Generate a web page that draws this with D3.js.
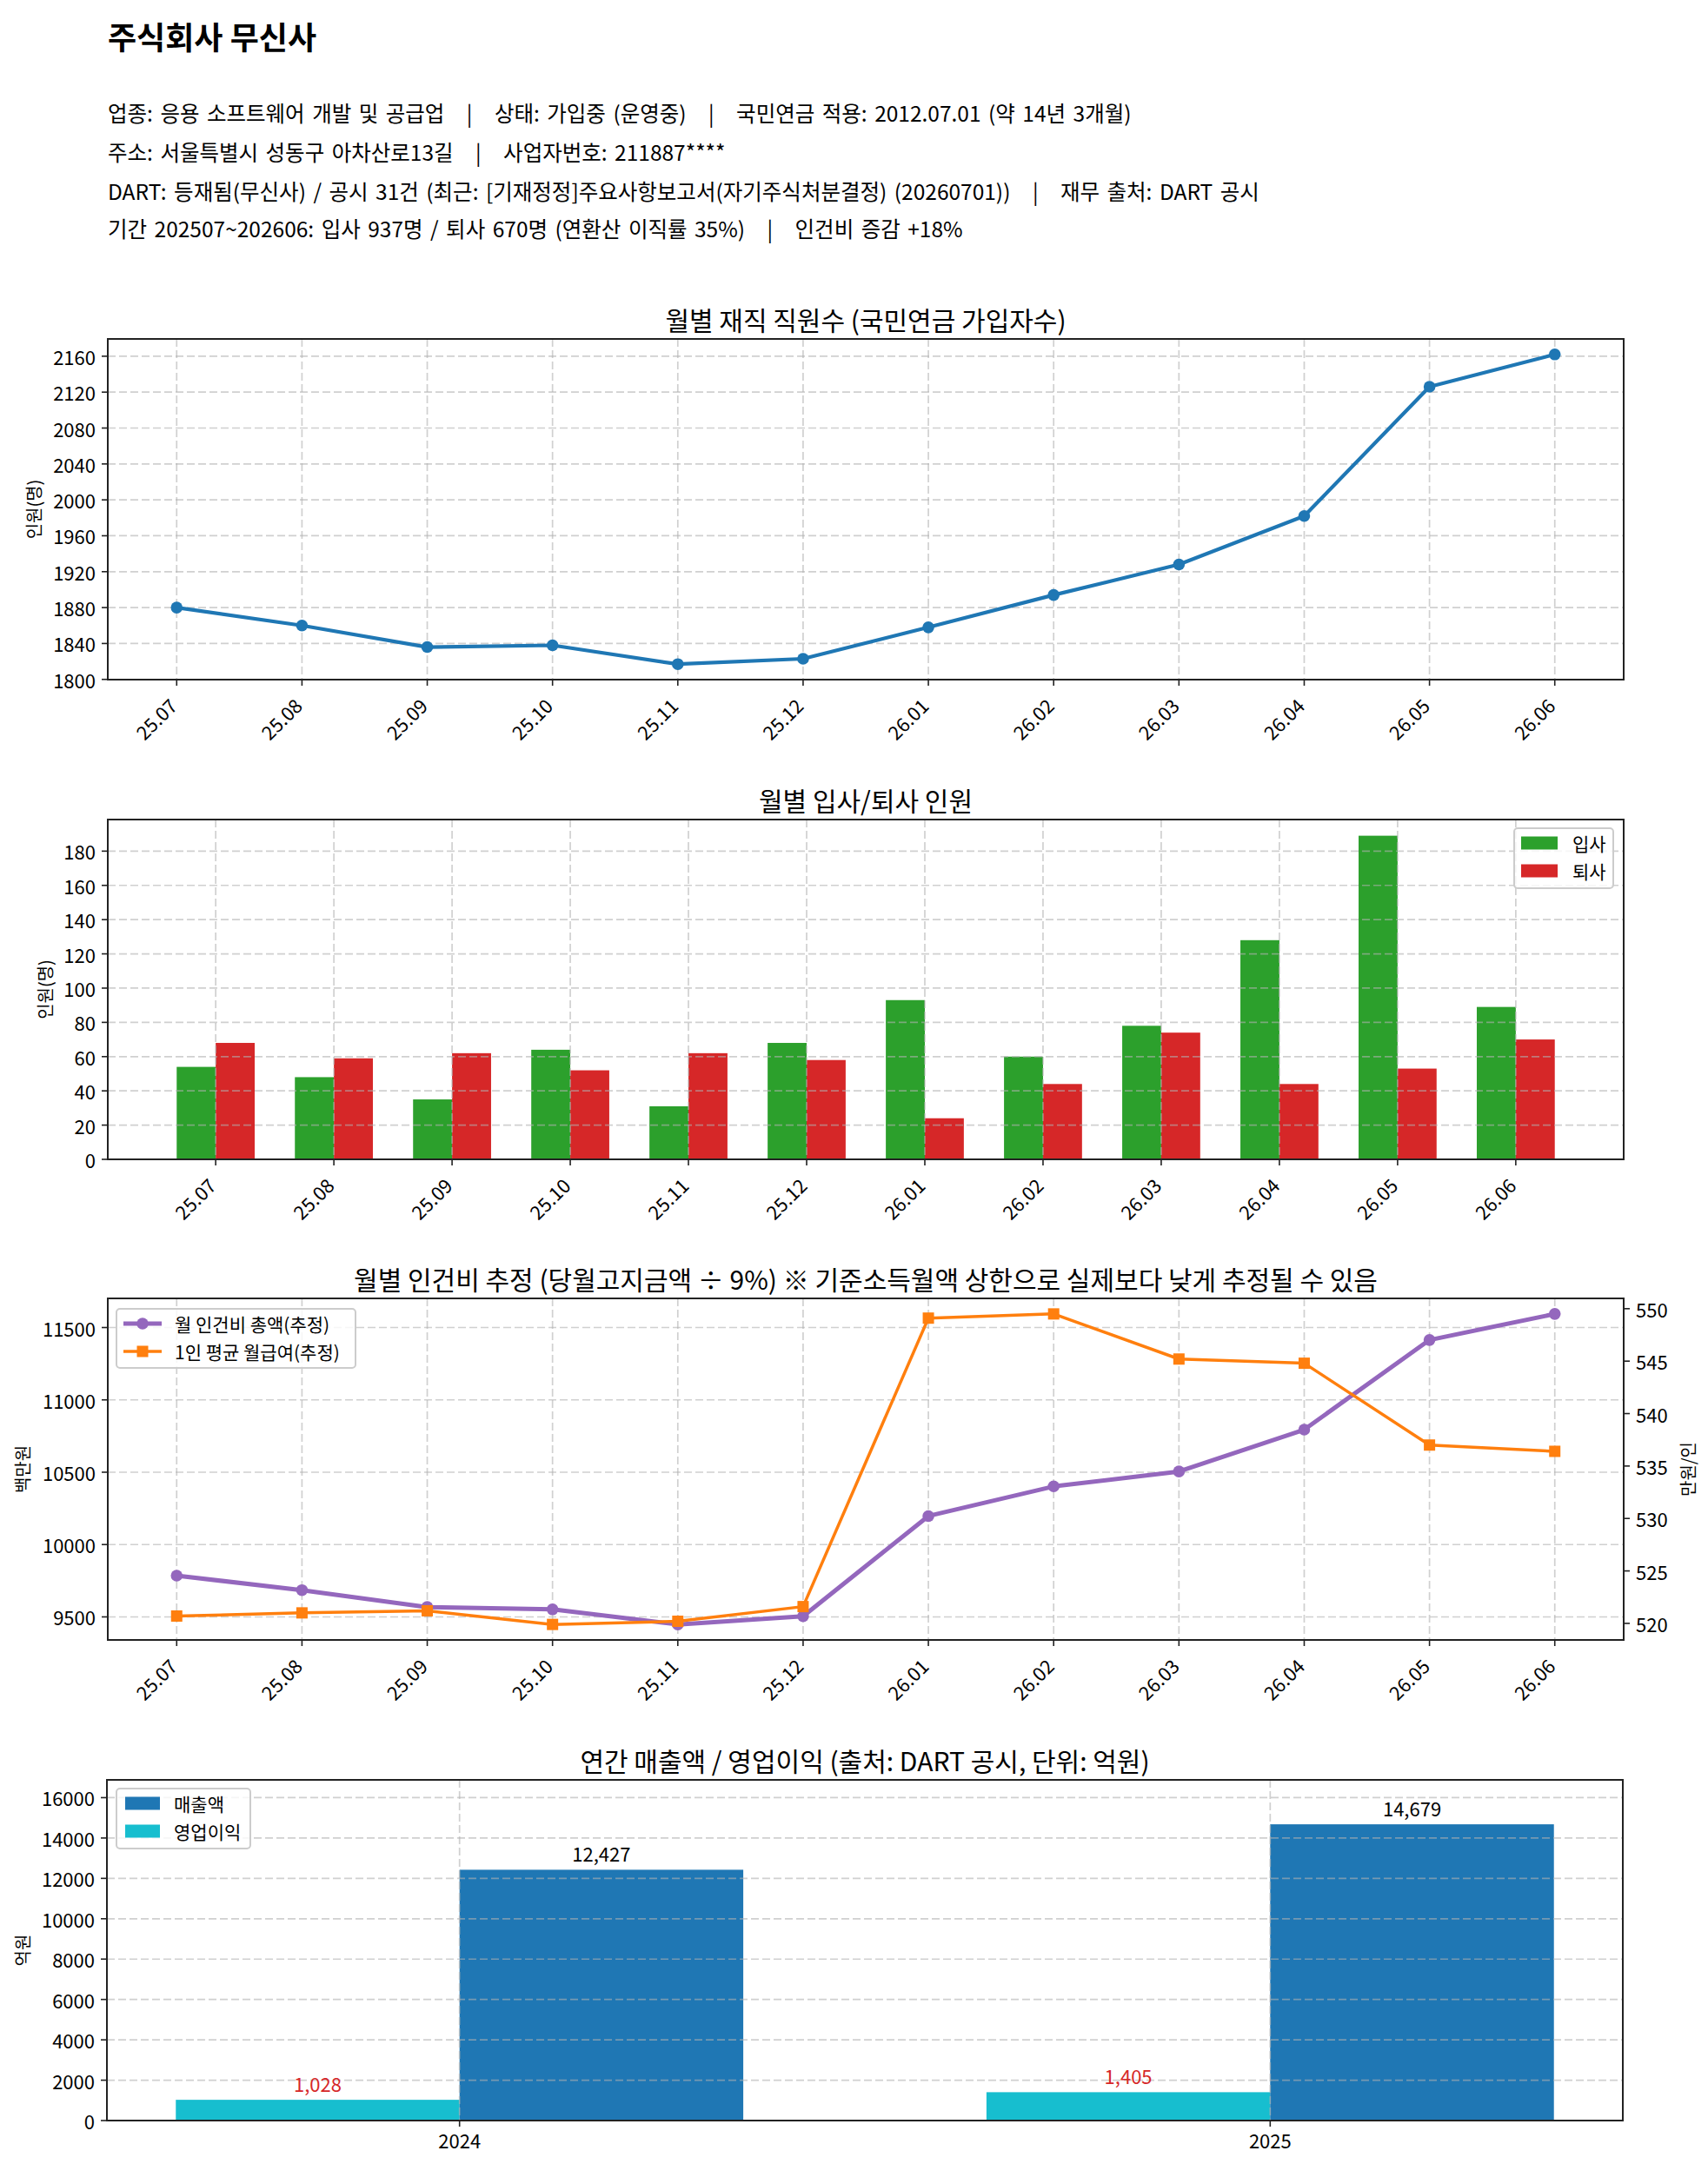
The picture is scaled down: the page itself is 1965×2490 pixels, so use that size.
<!DOCTYPE html>
<html><head><meta charset="utf-8">
<script src="https://cdn.jsdelivr.net/npm/d3@7/dist/d3.min.js"></script>
<style>
body{margin:0;background:#fff}
svg{display:block}
text{font-family:"Noto Sans CJK KR","Noto Sans",sans-serif;fill:#000}
</style>
</head><body>
<svg id="chart" width="1965" height="2490"></svg>
<script>
// ---------- DATA ----------
const months = ["25.07","25.08","25.09","25.10","25.11","25.12","26.01","26.02","26.03","26.04","26.05","26.06"];
const headcount = [1880,1860,1836,1838,1817,1823,1858,1894,1928,1982,2126,2162];
const hires  = [54,48,35,64,31,68,93,60,78,128,189,89];
const leaves = [68,59,62,52,62,58,24,44,74,44,53,70];
const laborCost = [9785,9685,9568,9552,9448,9504,10197,10402,10505,10794,11414,11594]; // 백만원
const avgSalary = [520.7,521.0,521.2,519.9,520.2,521.6,549.1,549.5,545.2,544.8,537.0,536.4]; // 만원/인
const years = ["2024","2025"];
const revenue = [12427,14679];
const opProfit = [1028,1405];

const headcountTicks = [1800,1840,1880,1920,1960,2000,2040,2080,2120,2160];
const flowTicks = [0,20,40,60,80,100,120,140,160,180];
const costTicks = [9500,10000,10500,11000,11500];
const salaryTicks = [520,525,530,535,540,545,550];
const finTicks = [0,2000,4000,6000,8000,10000,12000,14000,16000];

const headerTitle = "주식회사 무신사";
const headerLines = [
  "업종: 응용 소프트웨어 개발 및 공급업   |   상태: 가입중 (운영중)   |   국민연금 적용: 2012.07.01 (약 14년 3개월)",
  "주소: 서울특별시 성동구 아차산로13길   |   사업자번호: 211887****",
  "DART: 등재됨(무신사) / 공시 31건 (최근: [기재정정]주요사항보고서(자기주식처분결정) (20260701))   |   재무 출처: DART 공시",
  "기간 202507~202606: 입사 937명 / 퇴사 670명 (연환산 이직률 35%)   |   인건비 증감 +18%"
];

// ---------- STYLE ----------
const C = {blue:"#1f77b4", green:"#2ca02c", red:"#d62728", purple:"#9467bd", orange:"#ff7f0e", cyan:"#17becf",
           spine:"#222222", grid:"#b0b0b0"};
const L = 124, R = 1868;
const TICK_FS = 22, TITLE_FS = 30, LABEL_FS = 20, LEG_FS = 21;

const svg = d3.select("#chart");
svg.append("rect").attr("width",1965).attr("height",2490).attr("fill","#fff");

// header
svg.append("text").attr("x",124).attr("y",57).attr("font-size",36).attr("font-weight","bold").text(headerTitle);
const headerY = [140,185,230,273];
headerLines.forEach((t,i)=>{
  svg.append("text").attr("x",124).attr("y",headerY[i]).attr("font-size",24.5).attr("word-spacing",3)
     .attr("xml:space","preserve").style("white-space","pre").text(t);
});

// ---------- helpers ----------
function padExtent(arr, p){ const [a,b]=d3.extent(arr); const r=b-a; return [a-p*r, b+p*r]; }

function gridH(g, y, ticks, x0, x1){
  g.selectAll(null).data(ticks).enter().append("line")
   .attr("x1",x0).attr("x2",x1).attr("y1",d=>y(d)).attr("y2",d=>y(d))
   .attr("stroke",C.grid).attr("stroke-opacity",0.6).attr("stroke-width",1.7).attr("stroke-dasharray","9,4");
}
function gridV(g, xs, y0, y1){
  g.selectAll(null).data(xs).enter().append("line")
   .attr("x1",d=>d).attr("x2",d=>d).attr("y1",y0).attr("y2",y1)
   .attr("stroke",C.grid).attr("stroke-opacity",0.6).attr("stroke-width",1.7).attr("stroke-dasharray","9,4");
}
function frame(g, x0,x1,y0,y1){
  g.append("rect").attr("x",x0).attr("y",y0).attr("width",x1-x0).attr("height",y1-y0)
   .attr("fill","none").attr("stroke",C.spine).attr("stroke-width",2);
}
function yAxisLeft(g, y, ticks, x0, fmt){
  g.selectAll(null).data(ticks).enter().append("line")
   .attr("x1",x0-7).attr("x2",x0).attr("y1",d=>y(d)).attr("y2",d=>y(d)).attr("stroke",C.spine).attr("stroke-width",1.6);
  g.selectAll(null).data(ticks).enter().append("text")
   .attr("x",x0-14).attr("y",d=>y(d)).attr("text-anchor","end").attr("dominant-baseline","central")
   .attr("font-size",TICK_FS).text(d=>fmt?fmt(d):d);
}
function yAxisRight(g, y, ticks, x1){
  g.selectAll(null).data(ticks).enter().append("line")
   .attr("x1",x1).attr("x2",x1+7).attr("y1",d=>y(d)).attr("y2",d=>y(d)).attr("stroke",C.spine).attr("stroke-width",1.6);
  g.selectAll(null).data(ticks).enter().append("text")
   .attr("x",x1+14).attr("y",d=>y(d)).attr("text-anchor","start").attr("dominant-baseline","central")
   .attr("font-size",TICK_FS).text(d=>d);
}
function xAxisRotated(g, xs, labels, y1){
  g.selectAll(null).data(xs).enter().append("line")
   .attr("x1",d=>d).attr("x2",d=>d).attr("y1",y1).attr("y2",y1+7).attr("stroke",C.spine).attr("stroke-width",1.6);
  g.selectAll(null).data(xs).enter().append("text")
   .attr("transform",(d)=>`translate(${d-5},${y1+25}) rotate(-45)`)
   .attr("text-anchor","end").attr("dominant-baseline","central").attr("font-size",TICK_FS)
   .text((d,i)=>labels[i]);
}
function title(g, text, top){
  g.append("text").attr("x",(L+R)/2).attr("y",top-10).attr("text-anchor","middle").attr("font-size",TITLE_FS).text(text);
}
function yLabel(g, text, x, top, bottom){
  g.append("text").attr("transform",`translate(${x},${(top+bottom)/2}) rotate(-90)`)
   .attr("text-anchor","middle").attr("dominant-baseline","central").attr("font-size",LABEL_FS).text(text);
}
function legendBox(g,x0,y0,x1,y1){
  g.append("rect").attr("x",x0).attr("y",y0).attr("width",x1-x0).attr("height",y1-y0).attr("rx",4)
   .attr("fill","#fff").attr("fill-opacity",0.8).attr("stroke","#cccccc").attr("stroke-width",2);
}

// ---------- Chart 1: headcount ----------
{
  const top=390,bottom=782;
  const g = svg.append("g");
  const x = d3.scaleLinear().domain([-0.55, months.length-1+0.55]).range([L,R]);
  const y = d3.scaleLinear().domain(padExtent(headcount,0.05)).range([bottom,top]);
  const xs = months.map((m,i)=>x(i));
  gridV(g, xs, top, bottom);
  gridH(g, y, headcountTicks, L, R);
  const line = d3.line().x((d,i)=>x(i)).y(d=>y(d));
  g.append("path").datum(headcount).attr("d",line).attr("fill","none").attr("stroke",C.blue).attr("stroke-width",4.2).attr("stroke-linejoin","round");
  g.selectAll(null).data(headcount).enter().append("circle").attr("cx",(d,i)=>x(i)).attr("cy",d=>y(d)).attr("r",6.8).attr("fill",C.blue);
  frame(g,L,R,top,bottom);
  yAxisLeft(g,y,headcountTicks,L);
  xAxisRotated(g,xs,months,bottom);
  title(g,"월별 재직 직원수 (국민연금 가입자수)",top);
  yLabel(g,"인원(명)",38,top,bottom);
}

// ---------- Chart 2: hires / leaves ----------
{
  const top=943,bottom=1334, w=0.33;
  const g = svg.append("g");
  const span = months.length-1+2*w;
  const x = d3.scaleLinear().domain([-w-0.05*span, months.length-1+w+0.05*span]).range([L,R]);
  const y = d3.scaleLinear().domain([0, d3.max(hires.concat(leaves))*1.05]).range([bottom,top]);
  const xs = months.map((m,i)=>x(i));
  const bw = x(w)-x(0);
  g.selectAll(null).data(hires).enter().append("rect")
   .attr("x",(d,i)=>x(i-w)).attr("y",d=>y(d)).attr("width",bw).attr("height",d=>bottom-y(d)).attr("fill",C.green);
  g.selectAll(null).data(leaves).enter().append("rect")
   .attr("x",(d,i)=>x(i)).attr("y",d=>y(d)).attr("width",bw).attr("height",d=>bottom-y(d)).attr("fill",C.red);
  gridV(g, xs, top, bottom);
  gridH(g, y, flowTicks, L, R);
  frame(g,L,R,top,bottom);
  yAxisLeft(g,y,flowTicks,L);
  xAxisRotated(g,xs,months,bottom);
  title(g,"월별 입사/퇴사 인원",top);
  yLabel(g,"인원(명)",51,top,bottom);
  legendBox(g,1742,953,1856,1022);
  [["입사",C.green,970],["퇴사",C.red,1002]].forEach(([t,c,cy])=>{
    g.append("rect").attr("x",1750).attr("y",cy-7.5).attr("width",42).attr("height",15).attr("fill",c);
    g.append("text").attr("x",1809).attr("y",cy).attr("dominant-baseline","central").attr("font-size",LEG_FS).text(t);
  });
}

// ---------- Chart 3: labor cost ----------
{
  const top=1494,bottom=1887;
  const g = svg.append("g");
  const x = d3.scaleLinear().domain([-0.55, months.length-1+0.55]).range([L,R]);
  const yL = d3.scaleLinear().domain(padExtent(laborCost,0.05)).range([bottom,top]);
  const yR = d3.scaleLinear().domain(padExtent(avgSalary,0.05)).range([bottom,top]);
  const xs = months.map((m,i)=>x(i));
  gridV(g, xs, top, bottom);
  gridH(g, yL, costTicks, L, R);
  g.append("path").datum(laborCost).attr("d",d3.line().x((d,i)=>x(i)).y(d=>yL(d)))
   .attr("fill","none").attr("stroke",C.purple).attr("stroke-width",5).attr("stroke-linejoin","round");
  g.selectAll(null).data(laborCost).enter().append("circle").attr("cx",(d,i)=>x(i)).attr("cy",d=>yL(d)).attr("r",6.8).attr("fill",C.purple);
  g.append("path").datum(avgSalary).attr("d",d3.line().x((d,i)=>x(i)).y(d=>yR(d)))
   .attr("fill","none").attr("stroke",C.orange).attr("stroke-width",3.5).attr("stroke-linejoin","round");
  g.selectAll(null).data(avgSalary).enter().append("rect").attr("x",(d,i)=>x(i)-6.5).attr("y",d=>yR(d)-6.5)
   .attr("width",13).attr("height",13).attr("fill",C.orange);
  frame(g,L,R,top,bottom);
  yAxisLeft(g,yL,costTicks,L);
  yAxisRight(g,yR,salaryTicks,R);
  xAxisRotated(g,xs,months,bottom);
  title(g,"월별 인건비 추정 (당월고지금액 ÷ 9%) ※ 기준소득월액 상한으로 실제보다 낮게 추정될 수 있음",top);
  yLabel(g,"백만원",25.5,top,bottom);
  yLabel(g,"만원/인",1941,top,bottom);
  legendBox(g,134,1506,409,1574);
  g.append("line").attr("x1",142).attr("x2",186).attr("y1",1523).attr("y2",1523).attr("stroke",C.purple).attr("stroke-width",5);
  g.append("circle").attr("cx",164).attr("cy",1523).attr("r",6.8).attr("fill",C.purple);
  g.append("text").attr("x",201).attr("y",1523).attr("dominant-baseline","central").attr("font-size",LEG_FS).text("월 인건비 총액(추정)");
  g.append("line").attr("x1",142).attr("x2",186).attr("y1",1555).attr("y2",1555).attr("stroke",C.orange).attr("stroke-width",3.5);
  g.append("rect").attr("x",157.5).attr("y",1548.5).attr("width",13).attr("height",13).attr("fill",C.orange);
  g.append("text").attr("x",201).attr("y",1555).attr("dominant-baseline","central").attr("font-size",LEG_FS).text("1인 평균 월급여(추정)");
}

// ---------- Chart 4: revenue / operating profit ----------
{
  const top=2048,bottom=2440, w=0.35, L4=123, R4=1867;
  const g = svg.append("g");
  const span = years.length-1+2*w;
  const x = d3.scaleLinear().domain([-w-0.05*span, years.length-1+w+0.05*span]).range([L4,R4]);
  const y = d3.scaleLinear().domain([0, d3.max(revenue)*1.15]).range([bottom,top]);
  const xs = years.map((t,i)=>x(i));
  const bw = x(w)-x(0);
  g.selectAll(null).data(opProfit).enter().append("rect")
   .attr("x",(d,i)=>x(i-w)).attr("y",d=>y(d)).attr("width",bw).attr("height",d=>bottom-y(d)).attr("fill",C.cyan);
  g.selectAll(null).data(revenue).enter().append("rect")
   .attr("x",(d,i)=>x(i)).attr("y",d=>y(d)).attr("width",bw).attr("height",d=>bottom-y(d)).attr("fill",C.blue);
  gridV(g, xs, top, bottom);
  gridH(g, y, finTicks, L4, R4);
  const f = d3.format(",");
  g.selectAll(null).data(revenue).enter().append("text")
   .attr("x",(d,i)=>x(i+w/2)).attr("y",d=>y(d)-9).attr("text-anchor","middle").attr("font-size",22).text(d=>f(d));
  g.selectAll(null).data(opProfit).enter().append("text")
   .attr("x",(d,i)=>x(i-w/2)).attr("y",d=>y(d)-9).attr("text-anchor","middle").attr("font-size",22)
   .style("fill",C.red).text(d=>f(d));
  frame(g,L4,R4,top,bottom);
  yAxisLeft(g,y,finTicks,L4);
  g.selectAll(null).data(xs).enter().append("line")
   .attr("x1",d=>d).attr("x2",d=>d).attr("y1",bottom).attr("y2",bottom+7).attr("stroke",C.spine).attr("stroke-width",1.6);
  g.selectAll(null).data(xs).enter().append("text")
   .attr("x",d=>d).attr("y",bottom+32).attr("text-anchor","middle").attr("font-size",TICK_FS).text((d,i)=>years[i]);
  g.append("text").attr("x",(L4+R4)/2).attr("y",top-10).attr("text-anchor","middle").attr("font-size",TITLE_FS)
   .text("연간 매출액 / 영업이익 (출처: DART 공시, 단위: 억원)");
  yLabel(g,"억원",25,top,bottom);
  legendBox(g,134,2058,288,2127);
  [["매출액",C.blue,2075],["영업이익",C.cyan,2107]].forEach(([t,c,cy])=>{
    g.append("rect").attr("x",144).attr("y",cy-7.5).attr("width",40).attr("height",15).attr("fill",c);
    g.append("text").attr("x",200).attr("y",cy).attr("dominant-baseline","central").attr("font-size",LEG_FS).text(t);
  });
}
</script>
</body></html>
